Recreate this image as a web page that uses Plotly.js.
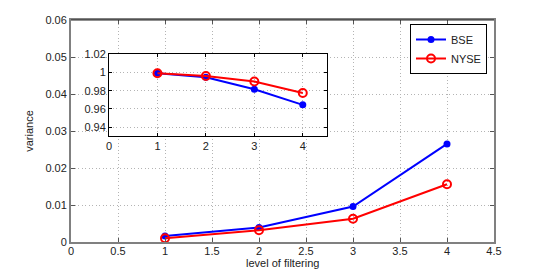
<!DOCTYPE html>
<html>
<head>
<meta charset="utf-8">
<script src="https://cdn.plot.ly/plotly-3.0.1.min.js"></script>
<style>html,body{margin:0;padding:0;background:#fff}</style>
</head>
<body>
<div id="chart" style="width:545px;height:273px"></div>
<script>
// Main chart data
const levels = [1, 2, 3, 4];
const bseVariance = [0.0016, 0.0039, 0.0096, 0.0265];
const nyseVariance = [0.0010, 0.0032, 0.0063, 0.0156];
// Inset data
const bseInset = [0.999, 0.9945, 0.9815, 0.9645];
const nyseInset = [0.999, 0.996, 0.990, 0.9775];

const mainXTicks = [0, 0.5, 1, 1.5, 2, 2.5, 3, 3.5, 4, 4.5];
const mainXLabels = ["0", "0.5", "1", "1.5", "2", "2.5", "3", "3.5", "4", "4.5"];
const mainYTicks = [0, 0.01, 0.02, 0.03, 0.04, 0.05, 0.06];
const mainYLabels = ["0", "0.01", "0.02", "0.03", "0.04", "0.05", "0.06"];
const insetXTicks = [0, 1, 2, 3, 4];
const insetXLabels = ["0", "1", "2", "3", "4"];
const insetYTicks = [0.94, 0.96, 0.98, 1.00, 1.02];
const insetYLabels = ["0.94", "0.96", "0.98", "1", "1.02"];
const xTitle = 'level of filtering';
const yTitle = 'variance';

const W = 545, H = 273;
const blue = '#0000ff', red = '#ff0000';

const traces = [
  {x: levels, y: bseVariance, name: 'BSE', mode: 'lines+markers', xaxis: 'x', yaxis: 'y',
   line: {color: blue, width: 2}, marker: {color: blue, size: 7, symbol: 'circle'}},
  {x: levels, y: nyseVariance, name: 'NYSE', mode: 'lines+markers', xaxis: 'x', yaxis: 'y',
   line: {color: red, width: 2}, marker: {color: red, size: 8, symbol: 'circle-open', line: {width: 2, color: red}}},
  {x: levels, y: bseInset, name: 'BSE', mode: 'lines+markers', xaxis: 'x2', yaxis: 'y2', showlegend: false,
   line: {color: blue, width: 2}, marker: {color: blue, size: 7, symbol: 'circle'}},
  {x: levels, y: nyseInset, name: 'NYSE', mode: 'lines+markers', xaxis: 'x2', yaxis: 'y2', showlegend: false,
   line: {color: red, width: 2}, marker: {color: red, size: 8, symbol: 'circle-open', line: {width: 2, color: red}}}
];

const font = {family: 'Liberation Sans, Arial, sans-serif', size: 11, color: '#222'};
const grid = {showgrid: true, gridcolor: '#b4b4b4', griddash: '1px,2.5px', gridwidth: 1, zeroline: false};

const layout = {
  width: W, height: H,
  margin: {l: 0, r: 0, t: 0, b: 0},
  paper_bgcolor: '#fff', plot_bgcolor: '#fff',
  font: font,
  showlegend: true,
  legend: {x: 487 / W, y: 1 - 24 / H, xanchor: 'right', yanchor: 'top',
           bordercolor: '#000', borderwidth: 1, bgcolor: '#fff',
           font: {family: font.family, size: 11, color: '#222'},
           tracegroupgap: 0, itemwidth: 30},
  xaxis: Object.assign({}, grid, {
    domain: [71 / W, 494 / W], range: [0, 4.5], tickvals: mainXTicks, ticktext: mainXLabels,
    ticks: 'inside', ticklen: 4, tickcolor: '#555', mirror: 'ticks', showline: true,
    linecolor: '#808080', linewidth: 2, automargin: false, ticklabelstandoff: -2
  }),
  yaxis: Object.assign({}, grid, {
    domain: [1 - 242 / H, 1 - 20 / H], range: [0, 0.06], tickvals: mainYTicks, ticktext: mainYLabels,
    ticks: 'inside', ticklen: 4, tickcolor: '#555', mirror: 'ticks', showline: true,
    linecolor: '#808080', linewidth: 2, automargin: false,
    title: {text: yTitle, font: {family: font.family, size: 11, color: '#222'}, standoff: 10}
  }),
  xaxis2: Object.assign({}, grid, {
    domain: [109 / W, 327 / W], range: [0, 4.5], tickvals: insetXTicks, ticktext: insetXLabels,
    ticks: 'inside', ticklen: 3, tickcolor: '#000', mirror: 'ticks', showline: true,
    linecolor: '#000', linewidth: 1, anchor: 'y2', automargin: false
  }),
  yaxis2: Object.assign({}, grid, {
    domain: [1 - 136 / H, 1 - 54 / H], range: [0.9305, 1.02], tickvals: insetYTicks, ticktext: insetYLabels,
    ticks: 'inside', ticklen: 3, tickcolor: '#000', mirror: 'ticks', showline: true,
    linecolor: '#000', linewidth: 1, anchor: 'x2', automargin: false
  }),
  annotations: [
    {text: xTitle, xref: 'paper', yref: 'paper', x: 282.5 / W, y: 1 - 263 / H,
     xanchor: 'center', yanchor: 'middle', showarrow: false,
     font: {family: font.family, size: 11, color: '#222'}}
  ],
  shapes: [
    {type: 'line', xref: 'paper', yref: 'paper', x0: 71 / W, x1: 494 / W, y0: 1 - 20 / H, y1: 1 - 20 / H,
     line: {color: '#222', width: 1}, layer: 'above'}
  ]
};

Plotly.newPlot('chart', traces, layout, {staticPlot: true, displayModeBar: false});
</script>
</body>
</html>
